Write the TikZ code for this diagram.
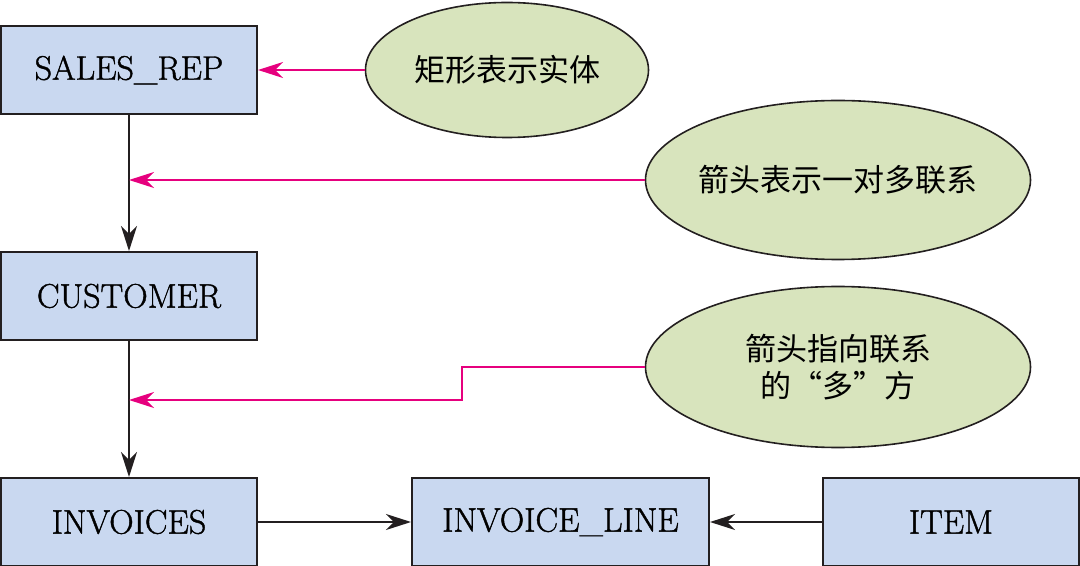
\documentclass[tikz,border=0pt]{standalone}
\usepackage{fontspec}
\newfontfamily\cjk{Noto Sans CJK SC}
\newfontfamily\boxfont{Latin Modern Roman}[FakeBold=1.2]
\usepackage{tikz}
\usetikzlibrary{shapes.geometric, arrows.meta, positioning}

\definecolor{boxblue}{RGB}{201,216,240}
\definecolor{notegreen}{RGB}{216,228,189}
\definecolor{hintpink}{RGB}{230,0,126}
\definecolor{inkgray}{RGB}{35,31,32}

\begin{document}
\begin{tikzpicture}[
        x=0.5pt, y=-0.5pt,
        entity/.style={rectangle, draw=inkgray, fill=boxblue, line width=1pt, minimum width=128pt, minimum height=44pt, inner sep=0pt, font=\boxfont\fontsize{17}{20}\selectfont},
        note/.style={ellipse, draw=inkgray, fill=notegreen, line width=0.8pt, inner sep=0pt, inner xsep=-4pt, align=center, font=\cjk\fontsize{15.5}{18.5}\selectfont},
        arrow/.style={-{Stealth[length=12.5pt, width=8pt, inset=4pt]}, draw=inkgray, line width=0.85pt},
        hint/.style={-{Stealth[length=12.5pt, width=8pt, inset=4pt]}, draw=hintpink, line width=0.85pt}
    ]
    \useasboundingbox (0,0) rectangle (1080,566);

    \node (sales) [entity] at (129,70) {SALES\_REP};
    \node (customer) [entity, below=68pt of sales] {CUSTOMER};
    \node (invoices) [entity, below=68pt of customer] {INVOICES};
    \node (invline) [entity, right=76.5pt of invoices, minimum width=148.5pt] {INVOICE\_LINE};
    \node (item) [entity, right=56pt of invline] {ITEM};

    \node (e1) [note, minimum width=141.5pt, minimum height=67.5pt] at (507,70) {矩形表示实体};
    \node (e2) [note, minimum width=192.5pt, minimum height=79.5pt] at (838,180) {箭头表示一对多联系};
    \node (e3) [note, minimum width=192.5pt, minimum height=80.5pt] at (838,367) {箭头指向联系\\的“多”方};

    \coordinate (m1) at (sales.south |- e2.west);
    \coordinate (m2) at (129,400);
    \coordinate (bend) at (462,400);

    \draw [arrow] (sales) -- (customer);
    \draw [arrow] (customer) -- (invoices);
    \draw [arrow] (invoices) -- (invline);
    \draw [arrow] (item) -- (invline);

    \draw [hint] (e1.west) -- (sales.east);
    \draw [hint] (e2.west) -- (m1);
    \draw [hint] (e3.west) -| (bend) -- (m2);

\end{tikzpicture}
\end{document}
